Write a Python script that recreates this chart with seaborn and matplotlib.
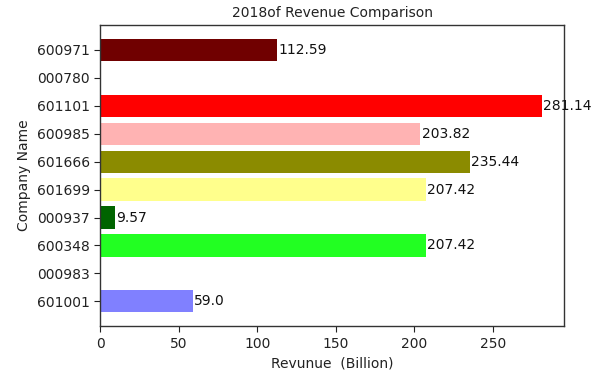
import matplotlib
matplotlib.use("Agg")
import matplotlib.pyplot as plt
import seaborn as sns
import pandas as pd

companies = ["600971", "000780", "601101", "600985", "601666",
             "601699", "000937", "600348", "000983", "601001"]
revenue = [112.59, 0, 281.14, 203.82, 235.44, 207.42, 9.57, 207.42, 0, 59.0]
colors = ["#700000", "#ffffff", "#ff0000", "#ffb3b3", "#8b8b00",
          "#ffff8c", "#006400", "#22ff22", "#ffffff", "#8080ff"]
title = "2018of Revenue Comparison"

sns.set_style("white")
plt.rcParams['font.family'] = ['DejaVu Sans']
plt.rcParams.update({"text.color": "#222222", "axes.labelcolor": "#222222",
                     "xtick.color": "#222222", "ytick.color": "#222222"})

df = pd.DataFrame({"company": companies, "revenue": revenue})
fig = plt.figure(figsize=(6.07, 3.81), dpi=100)
ax = fig.add_axes([0.165, 0.144, 0.764, 0.790])
sns.barplot(data=df, x="revenue", y="company", hue="company", order=companies,
            palette=dict(zip(companies, colors)), legend=False, width=0.8,
            linewidth=0, saturation=1, ax=ax)
for cont in ax.containers:
    labels = [str(v) if v != 0 else "" for v in cont.datavalues]
    ax.bar_label(cont, labels=labels, padding=1, fontsize=10, color="#111111")
ax.set_xlim(0, max(revenue) * 1.05)
ax.set_ylim(len(companies) - 1 + 0.89, -0.89)
ax.set_title(title, fontsize=10)
ax.set_xlabel("Revunue  (Billion)", fontsize=10)
ax.set_ylabel("Company Name", fontsize=10)
ax.tick_params(axis="both", labelsize=10, length=4, left=True, bottom=True)
for s in ax.spines.values():
    s.set_color("#333333")
    s.set_linewidth(1)
fig.savefig("out.png", dpi=100)
